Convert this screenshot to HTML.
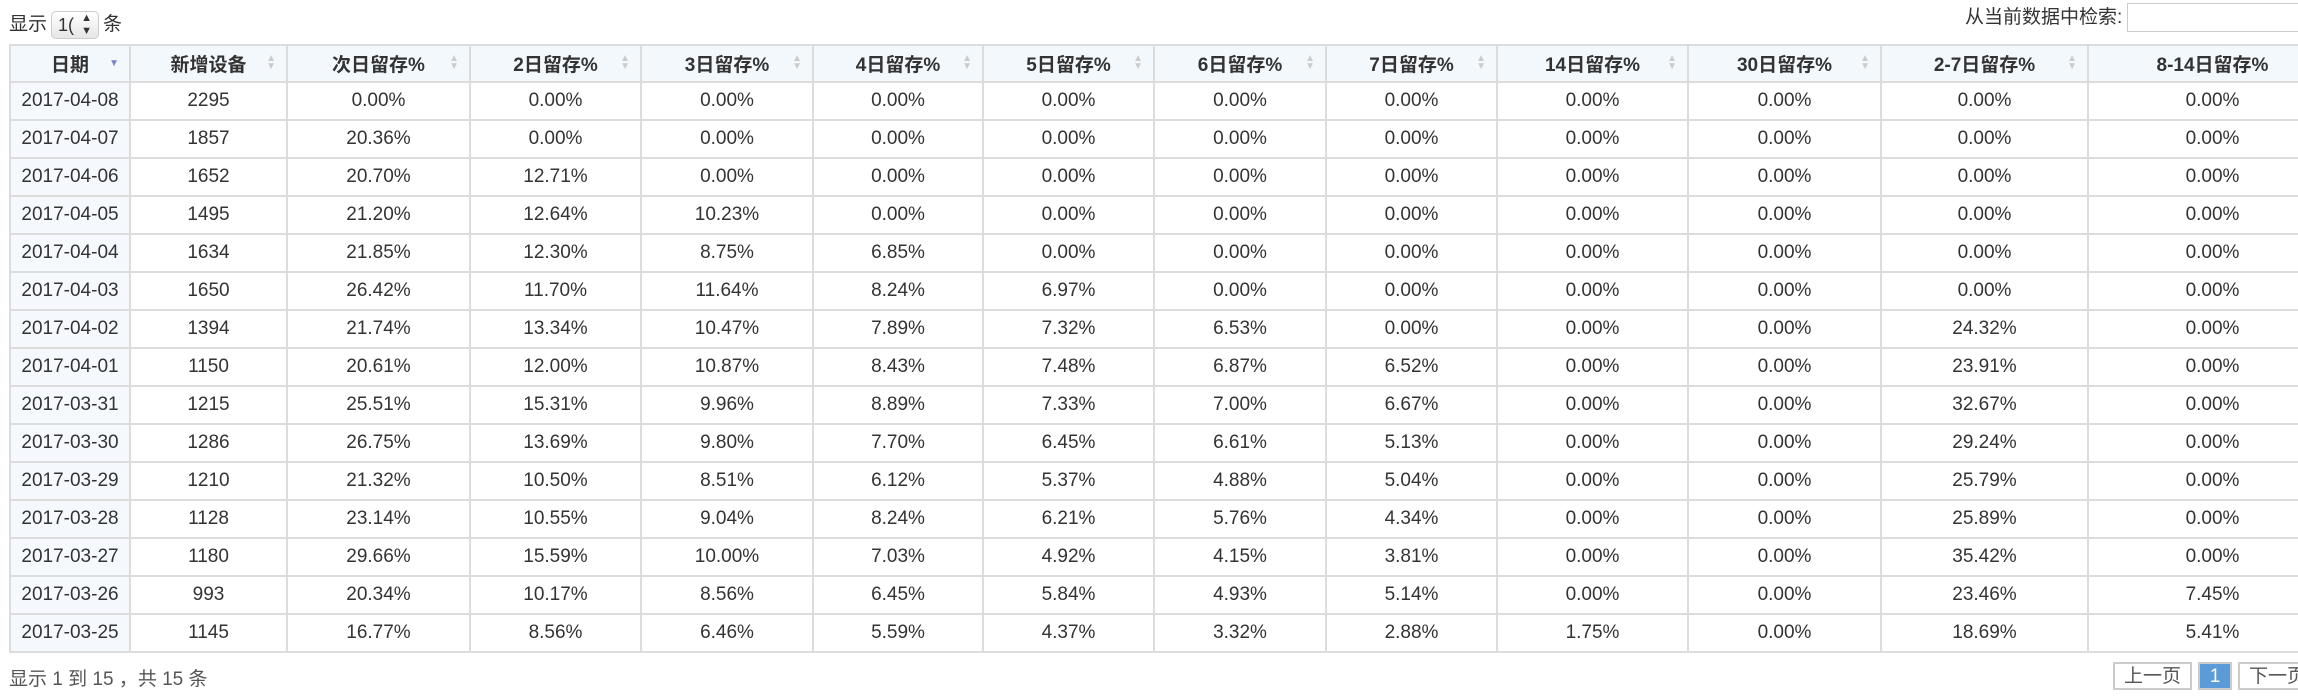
<!DOCTYPE html>
<html><head><meta charset="utf-8">
<style>
html,body{margin:0;padding:0;width:2298px;height:698px;overflow:hidden;background:#fff;font-family:"Liberation Sans","Noto Sans CJK SC",sans-serif;color:#333}
#len{position:absolute;left:9px;top:10px;font-size:19px;line-height:30px;color:#333}
#len .sel{display:inline-block;width:46px;height:26px;border:1px solid #ccc;border-radius:5px;background:linear-gradient(#fff,#e6e6e6);vertical-align:middle;font-size:18px;line-height:26px;text-indent:6px;position:relative;margin:0 4px}
#len .sel span{position:absolute;right:6px;top:0;font-size:11px;line-height:13px;text-indent:0}
#search{position:absolute;left:1965px;top:3px;font-size:19px;line-height:30px}
#search input{position:absolute;left:162px;top:0;width:200px;height:27px;border:1px solid #ccc;padding:0;margin:0}
table{position:absolute;left:9px;top:44px;border-collapse:collapse;table-layout:fixed;font-size:19px;width:2327px}
td,th{border:2px solid #dcdcdc;text-align:center;padding:0;height:36px;white-space:nowrap}
th{background:#f3f8fd;font-weight:bold;height:35px;position:relative}
td.d{background:#f5f9fe}
th .s{position:absolute;right:10px;top:9px;font-size:10px;line-height:8px;color:#ccc}
th .s.a{color:#7b83c9;top:14px}
#info{position:absolute;left:9px;top:664px;font-size:19px;color:#555}
.pg{position:absolute;top:662px;height:28px;border:2px solid #ccc;font-size:19px;line-height:26px;text-align:center;color:#555;box-sizing:border-box;background:#fff}
</style></head><body>
<div id="len">显示<span class="sel">1(<span>▲<br>▼</span></span>条</div>
<div id="search">从当前数据中检索:<input></div>
<table id="t"><colgroup id="cg"></colgroup><thead><tr id="hr"></tr></thead><tbody id="tb"></tbody></table>
<div id="info">显示 1 到 15 ，共 15 条</div>
<div class="pg" style="left:2113px;width:79px">上一页</div>
<div class="pg" style="left:2198px;width:34px;background:#5b9bd8;color:#fff;border-color:#ccc">1</div>
<div class="pg" style="left:2238px;width:79px">下一页</div>
<script>
const headers=["日期","新增设备","次日留存%","2日留存%","3日留存%","4日留存%","5日留存%","6日留存%","7日留存%","14日留存%","30日留存%","2-7日留存%","8-14日留存%"];
const widths=[120,157,183,171,172,170,171,172,171,191,193,207,249];
const dates=["2017-04-08","2017-04-07","2017-04-06","2017-04-05","2017-04-04","2017-04-03","2017-04-02","2017-04-01","2017-03-31","2017-03-30","2017-03-29","2017-03-28","2017-03-27","2017-03-26","2017-03-25"];
const devices=[2295,1857,1652,1495,1634,1650,1394,1150,1215,1286,1210,1128,1180,993,1145];
const d1=[0,20.36,20.70,21.20,21.85,26.42,21.74,20.61,25.51,26.75,21.32,23.14,29.66,20.34,16.77];
const d2=[0,0,12.71,12.64,12.30,11.70,13.34,12.00,15.31,13.69,10.50,10.55,15.59,10.17,8.56];
const d3=[0,0,0,10.23,8.75,11.64,10.47,10.87,9.96,9.80,8.51,9.04,10.00,8.56,6.46];
const d4=[0,0,0,0,6.85,8.24,7.89,8.43,8.89,7.70,6.12,8.24,7.03,6.45,5.59];
const d5=[0,0,0,0,0,6.97,7.32,7.48,7.33,6.45,5.37,6.21,4.92,5.84,4.37];
const d6=[0,0,0,0,0,0,6.53,6.87,7.00,6.61,4.88,5.76,4.15,4.93,3.32];
const d7=[0,0,0,0,0,0,0,6.52,6.67,5.13,5.04,4.34,3.81,5.14,2.88];
const d14=[0,0,0,0,0,0,0,0,0,0,0,0,0,0,1.75];
const d30=[0,0,0,0,0,0,0,0,0,0,0,0,0,0,0];
const d27=[0,0,0,0,0,0,24.32,23.91,32.67,29.24,25.79,25.89,35.42,23.46,18.69];
const d814=[0,0,0,0,0,0,0,0,0,0,0,0,0,7.45,5.41];
const pct=[d1,d2,d3,d4,d5,d6,d7,d14,d30,d27,d814];
const cg=document.getElementById('cg');
widths.forEach(w=>{const c=document.createElement('col');c.style.width=w+'px';cg.appendChild(c);});
const hr=document.getElementById('hr');
headers.forEach((h,i)=>{
 const th=document.createElement('th');
 
 
 th.textContent=h;
 if(i<headers.length-1){const s=document.createElement('span');s.className='s'+(i==0?' a':'');s.innerHTML=i==0?'▼':'▲<br>▼';th.appendChild(s);}
 hr.appendChild(th);
});
const tb=document.getElementById('tb');
dates.forEach((d,r)=>{
 const tr=document.createElement('tr');
 
 
 const vals=[d,String(devices[r])].concat(pct.map(a=>a[r].toFixed(2)+'%'));
 vals.forEach((v,i)=>{
  const td=document.createElement('td');
  
  
  if(i==0)td.className='d';
  td.textContent=v;tr.appendChild(td);
 });
 tb.appendChild(tr);
});
</script>
</body></html>
